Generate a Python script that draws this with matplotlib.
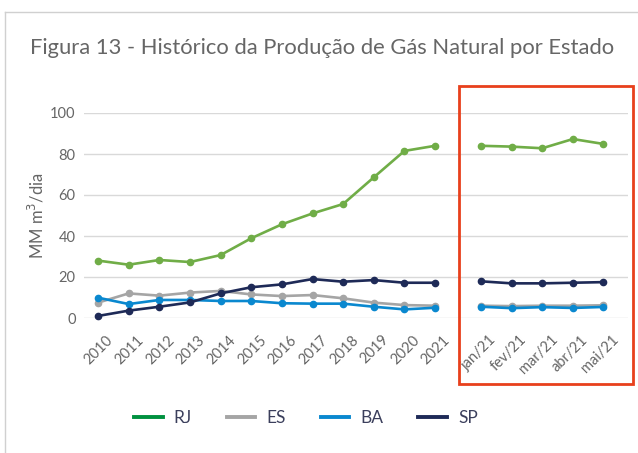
import matplotlib.pyplot as plt
from matplotlib.lines import Line2D
from matplotlib.patches import Rectangle
from matplotlib.transforms import ScaledTranslation
import numpy as np

plt.rcParams['font.family'] = ['Lato', 'DejaVu Sans']

anos = ['2010', '2011', '2012', '2013', '2014', '2015', '2016', '2017',
        '2018', '2019', '2020', '2021']
meses = ['jan/21', 'fev/21', 'mar/21', 'abr/21', 'mai/21']

rj_anos = [28, 26, 28.3, 27.3, 30.7, 38.9, 45.7, 51, 55.6, 68.6, 81.5, 84]
es_anos = [7.5, 12, 10.9, 12.4, 13.2, 11.5, 10.7, 11.2, 9.6, 7.5, 6.3, 6]
ba_anos = [9.9, 6.8, 8.8, 8.8, 8.3, 8.3, 7.2, 7, 7, 5.5, 4.2, 5]
sp_anos = [1, 3.6, 5.5, 7.6, 12, 15, 16.4, 19, 17.7, 18.5, 17.2, 17.2]

rj_meses = [84, 83.6, 82.8, 87.3, 84.9]
es_meses = [6, 5.8, 6, 6, 6.2]
ba_meses = [5.5, 4.8, 5.3, 4.9, 5.4]
sp_meses = [17.9, 16.9, 16.9, 17.2, 17.5]

series = [
    ('RJ', rj_anos, rj_meses, '#70ad47', '#00913f'),
    ('ES', es_anos, es_meses, '#a5a5a5', '#a5a5a5'),
    ('BA', ba_anos, ba_meses, '#0a88cf', '#0a88cf'),
    ('SP', sp_anos, sp_meses, '#1e2a57', '#1e2a57'),
]

x_anos = np.arange(len(anos))
x_meses = np.arange(len(meses)) + len(anos) + 0.5

fig = plt.figure(figsize=(6.38, 4.53), dpi=100)
ax = fig.add_axes([84 / 638, 135 / 453, 544 / 638, 205 / 453])

for nome, va, vm, cor, cor_leg in series:
    ax.plot(x_anos, va, color=cor, lw=1.9, marker='o', ms=4.5, clip_on=False, zorder=3)
    ax.plot(x_meses, vm, color=cor, lw=1.9, marker='o', ms=4.5, clip_on=False, zorder=3)

ax.set_ylim(0, 100)
ax.set_xlim(-0.46, 17.3)
ax.set_yticks([0, 20, 40, 60, 80, 100])
ax.grid(axis='y', color='#d9d9d9', lw=1)
ax.set_axisbelow(True)
for s in ax.spines.values():
    s.set_visible(False)
ax.tick_params(length=0, colors='#666666', labelsize=10.5)
ax.tick_params(axis='y', pad=6)
ax.set_xticks(list(x_anos) + list(x_meses))
ax.set_xticklabels(anos + meses, rotation=45, ha='right', va='top',
                   rotation_mode='anchor')
ax.tick_params(axis='x', pad=7)
# desloca os rótulos do eixo x para a direita e para baixo
desloc = ScaledTranslation(8 / 100, -5 / 100, fig.dpi_scale_trans)
for t in ax.get_xticklabels():
    t.set_transform(t.get_transform() + desloc)
ax.set_ylabel('MM m$^3$/dia', color='#666666', fontsize=12, labelpad=3)

fig.text(30 / 638, 1 - 48 / 453, 'Figura 13 - Histórico da Produção de Gás Natural por Estado',
         fontsize=15.8, color='#666666', va='center', ha='left')

# moldura
fig.add_artist(Line2D([5 / 638, 5 / 638], [0, 1 - 12 / 453], color='#d0d0d0', lw=1))
fig.add_artist(Line2D([5 / 638, 1], [1 - 12 / 453, 1 - 12 / 453], color='#d0d0d0', lw=1))

# destaque 2021
fig.add_artist(Rectangle((459 / 638, 1 - 384 / 453), 174 / 638, 298 / 453,
                         fill=False, edgecolor='#e8401c', lw=2))

handles = [Line2D([], [], color=c2, lw=2.8) for _, _, _, _, c2 in series]
leg = fig.legend(handles, [s[0] for s in series], loc='center',
                 bbox_to_anchor=(306 / 638, 1 - 418 / 453), ncol=4, frameon=False,
                 fontsize=12.5, handlelength=1.65, handletextpad=0.65, columnspacing=2.0)
for t in leg.get_texts():
    t.set_color('#3b3f5c')

fig.savefig('out.png', dpi=100)
